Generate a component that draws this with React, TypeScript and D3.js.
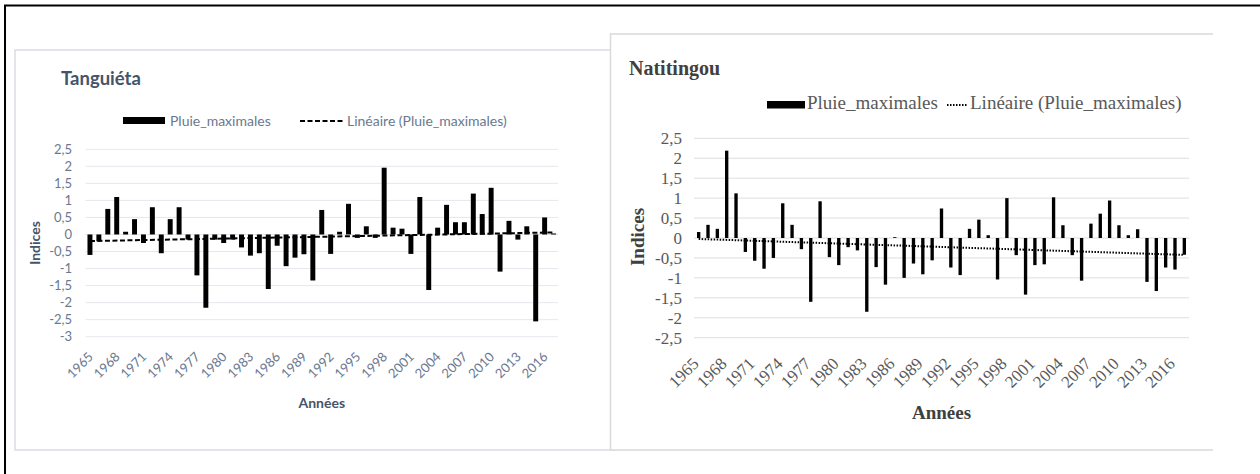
import React from "react";
import * as d3 from "d3";

// categories
const years = [
  1965, 1966, 1967, 1968, 1969, 1970, 1971, 1972, 1973, 1974, 1975, 1976, 1977, 1978,
  1979, 1980, 1981, 1982, 1983, 1984, 1985, 1986, 1987, 1988, 1989, 1990, 1991, 1992,
  1993, 1994, 1995, 1996, 1997, 1998, 1999, 2000, 2001, 2002, 2003, 2004, 2005, 2006,
  2007, 2008, 2009, 2010, 2011, 2012, 2013, 2014, 2015, 2016, 2017,
];
const yearLabels = [
  1965, 1968, 1971, 1974, 1977, 1980, 1983, 1986, 1989, 1992, 1995, 1998, 2001, 2004,
  2007, 2010, 2013, 2016,
];

// indices
const tanguietaValues = [
  -0.6, -0.2, 0.75, 1.1, 0.08, 0.45, -0.25, 0.8, -0.55, 0.45, 0.8, -0.15, -1.2, -2.15,
  -0.15, -0.25, -0.15, -0.38, -0.62, -0.55, -1.6, -0.33, -0.93, -0.68, -0.58, -1.35, 0.72, -0.57,
  0.08, 0.9, -0.1, 0.24, -0.1, 1.96, 0.2, 0.17, -0.57, 1.1, -1.63, 0.2, 0.87, 0.36,
  0.36, 1.2, 0.6, 1.37, -1.09, 0.4, -0.15, 0.24, -2.55, 0.5, 0.03,
];
const natitingouValues = [
  0.15, 0.33, 0.23, 2.19, 1.12, -0.35, -0.57, -0.77, -0.5, 0.87, 0.33, -0.28, -1.6, 0.92,
  -0.48, -0.68, -0.23, -0.31, -1.85, -0.73, -1.17, 0.02, -1.0, -0.64, -0.91, -0.56, 0.74, -0.74,
  -0.93, 0.23, 0.46, 0.07, -1.04, 1.0, -0.43, -1.42, -0.68, -0.66, 1.02, 0.32, -0.43, -1.07,
  0.36, 0.61, 0.94, 0.32, 0.07, 0.22, -1.1, -1.33, -0.74, -0.79, -0.42,
];

const tanguietaTicks = [2.5, 2, 1.5, 1, 0.5, 0, -0.5, -1, -1.5, -2, -2.5, -3];
const natitingouTicks = [2.5, 2, 1.5, 1, 0.5, 0, -0.5, -1, -1.5, -2, -2.5];

const seriesName = "Pluie_maximales";
const trendName = "Linéaire (Pluie_maximales)";
const yTitle = "Indices";
const xTitle = "Années";

const fmt = (v: number) => String(v).replace(".", ",");

// excel style linear trendline, x = 1..n
function trendEnds(values: number[]) {
  const xs = values.map((_, i) => i + 1);
  const mx = d3.mean(xs)!;
  const my = d3.mean(values)!;
  let sxy = 0;
  let sxx = 0;
  xs.forEach((x, i) => {
    sxy += (x - mx) * (values[i] - my);
    sxx += (x - mx) * (x - mx);
  });
  const slope = sxy / sxx;
  const b = my - slope * mx;
  return [b + slope, b + slope * values.length];
}

function Chart({ cfg }: { cfg: any }) {
  const x = d3.scaleBand<number>().domain(years).range([cfg.x0, cfg.x1]).padding(0);
  const y = d3
    .scaleLinear()
    .domain([d3.min(cfg.ticks as number[])!, d3.max(cfg.ticks as number[])!])
    .range([cfg.yBottom, cfg.yTop]);
  const bw = x.bandwidth() / (1 + cfg.gap);
  const [t0, t1] = trendEnds(cfg.values);
  const cx = (yr: number) => x(yr)! + x.bandwidth() / 2;
  const trend = d3.line<number[]>()([
    [cx(years[0]), y(t0)],
    [cx(years[years.length - 1]), y(t1)],
  ]);
  const txt = { fontFamily: cfg.font, fill: cfg.textColor };

  return (
    <g>
      <text x={cfg.titleX} y={cfg.titleY} fontSize={cfg.titleSize} fontWeight={cfg.titleWeight}
        style={{ fontFamily: cfg.font }} fill={cfg.titleColor}>
        {cfg.title}
      </text>

      {/* legend */}
      <rect x={cfg.lg.sx} y={cfg.lg.sy} width={cfg.lg.sw} height={cfg.lg.sh} fill="#000" />
      <text x={cfg.lg.t1} y={cfg.lg.ty} fontSize={cfg.lgSize} style={txt}>{seriesName}</text>
      <line x1={cfg.lg.l0} x2={cfg.lg.l1} y1={cfg.lg.ly} y2={cfg.lg.ly} stroke="#000"
        strokeWidth={cfg.trendWidth} strokeDasharray={cfg.dash} />
      <text x={cfg.lg.t2} y={cfg.lg.ty} fontSize={cfg.lgSize} style={txt}>{trendName}</text>

      {/* grid + y labels */}
      {cfg.ticks.map((t: number) => (
        <g key={t}>
          <line x1={cfg.x0} x2={cfg.x1} y1={y(t)} y2={y(t)} stroke={cfg.gridColor} strokeWidth={1} />
          <text x={cfg.yLabelX} y={y(t)} dy="0.35em" textAnchor="end" fontSize={cfg.tickSize} style={txt}>
            {fmt(t)}
          </text>
        </g>
      ))}

      {/* bars */}
      {cfg.values.map((v: number, i: number) => (
        <rect key={years[i]} x={cx(years[i]) - bw / 2} width={bw}
          y={Math.min(y(v), y(0))} height={Math.abs(y(v) - y(0))} fill="#000" />
      ))}

      <path d={trend!} stroke="#000" strokeWidth={cfg.trendWidth} strokeDasharray={cfg.dash} fill="none" />

      {/* x labels */}
      {yearLabels.map((yr) => (
        <text key={yr} transform={`translate(${cx(yr) + cfg.xlDx},${cfg.yBottom + cfg.xlDy}) rotate(-45)`}
          textAnchor="end" fontSize={cfg.tickSize} style={txt}>
          {yr}
        </text>
      ))}

      <text transform={`translate(${cfg.yTitleX},${cfg.yTitleY}) rotate(-90)`} textAnchor="middle"
        dy="0.35em" fontSize={cfg.axisTitleSize} fontWeight="bold" style={{ fontFamily: cfg.font }}
        fill={cfg.titleColor}>
        {yTitle}
      </text>
      <text x={(cfg.x0 + cfg.x1) / 2} y={cfg.xTitleY} textAnchor="middle" dy="0.35em"
        fontSize={cfg.axisTitleSize} fontWeight="bold" style={{ fontFamily: cfg.font }} fill={cfg.titleColor}>
        {xTitle}
      </text>
    </g>
  );
}

const leftCfg = {
  title: "Tanguiéta",
  values: tanguietaValues,
  ticks: tanguietaTicks,
  font: "Lato, 'Open Sans', sans-serif",
  titleX: 61, titleY: 85, titleSize: 18.5, titleWeight: 700, titleColor: "#44546a",
  textColor: "#6a7890",
  gridColor: "#e4e8ee",
  lgSize: 14,
  lg: { sx: 123, sy: 117, sw: 42, sh: 7, t1: 170, ty: 125.5, l0: 300, l1: 344, ly: 121, t2: 347 },
  x0: 85.5, x1: 558, yTop: 149.3, yBottom: 336.7,
  gap: 0.8,
  dash: "5,2.5", trendWidth: 2,
  yLabelX: 72, tickSize: 13,
  xlDx: 4, xlDy: 21,
  yTitleX: 35, yTitleY: 243, xTitleY: 403, axisTitleSize: 14,
};

const rightCfg = {
  title: "Natitingou",
  values: natitingouValues,
  ticks: natitingouTicks,
  font: "'Liberation Serif', 'Times New Roman', serif",
  titleX: 629, titleY: 75, titleSize: 20, titleWeight: 700, titleColor: "#404040",
  textColor: "#595959",
  gridColor: "#dedede",
  lgSize: 19,
  lg: { sx: 767, sy: 101, sw: 38, sh: 7.5, t1: 807, ty: 108.5, l0: 947, l1: 967, ly: 105, t2: 970 },
  x0: 694, x1: 1189, yTop: 138.3, yBottom: 337.7,
  gap: 1.8,
  dash: "1.5,1.5", trendWidth: 2,
  yLabelX: 682, tickSize: 17,
  xlDx: 1, xlDy: 27,
  yTitleX: 637, yTitleY: 237, xTitleY: 412, axisTitleSize: 19,
};

export default function App() {
  return (
    <svg width={1260} height={474} style={{ position: "absolute", left: 0, top: 0, background: "#fff" }}>
      <rect x={0} y={0} width={1260} height={474} fill="#fff" />
      {/* left panel */}
      <rect x={15} y={50} width={600} height={400} fill="#fff" stroke="#d9dde4" strokeWidth={1.5} />
      <Chart cfg={leftCfg} />
      {/* right panel */}
      <rect x={610} y={34} width={603} height={416} fill="#fff" />
      <path d="M1213,34 H610.5 V450 H1213" fill="none" stroke="#d9d9d9" strokeWidth={1.5} />
      <Chart cfg={rightCfg} />
      {/* outer frame */}
      <path d="M5,480 V5.5 H1262" fill="none" stroke="#000" strokeWidth={2} />
    </svg>
  );
}
